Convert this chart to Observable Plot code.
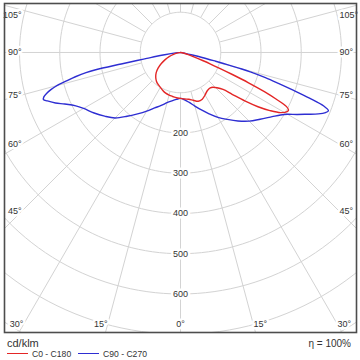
<!DOCTYPE html>
<html>
<head>
<meta charset="utf-8">
<script src="https://cdn.jsdelivr.net/npm/d3@7"></script>
<script src="https://cdn.jsdelivr.net/npm/@observablehq/plot@0.6"></script>
<style>
  html, body { margin: 0; padding: 0; background: #fff; }
  #wrap { position: relative; width: 360px; height: 360px; background: #fff;
          font-family: "Liberation Sans", Arial, sans-serif; color: #333; overflow: hidden; }
  #chart { position: absolute; left: 0; top: 0; }
  .abs { position: absolute; line-height: 1; white-space: nowrap; }
</style>
</head>
<body>
<div id="wrap">
  <div id="chart"></div>
</div>
<script>
// ---------------- data (gamma in degrees from nadir, intensity in cd/klm) ----------------
const gammaC180 = [0,5,10,15,20,25,30,35,40,45,50,55,60,65,70,75,80,85,90];
const iC180     = [114,113,111,109.5,107.5,104,100,97,93,87,79,68,55,42,30,18,9,3,0];

const gammaC0 = [0,5,10,15,20,25,30,35,40,43,46,49,51,53,55,57,59,61,62,63,64,65,66,67,68,69,70,72,75,80,90];
const iC0     = [114,116,118,123,129,128,122,116,115,118,126,140,165,200,235,265,290,303,304,295,265,230,185,140,105,80,60,35,18,7,0];

const gammaC270 = [0,5,10,15,20,25,30,35,40,45,50,55,60,63,66,68,70,71,72,73,74,75,76,77,78,78.5,79,79.5,80,81,82,84,87,90];
const iC270     = [114,117,122,129,140,152,168,186,207,230,246,262,278,292,315,335,352,360,357,348,335,318,292,268,240,215,150,110,85,60,40,20,7,0];

const gammaC90 = [0,5,10,15,20,25,30,35,40,45,50,55,58,60,62,64,66,67.5,68.5,69.5,70.5,71.5,72.5,73.5,74.5,75,75.5,76,77,78,80,85,90];
const iC90     = [114,118,126,138,152,168,186,203,222,241,258,278,293,307,328,350,375,390,395,380,340,295,255,220,180,150,120,90,55,30,12,3,0];

const seriesNames  = ["C0 - C180", "C90 - C270"];
const seriesColors = ["#e32626", "#2e2ed2"];

const gridRadii      = [100,200,300,400,500,600,700,800];
const radialLabels   = [200,300,400,500,600];
const angleTicks     = [105,90,75,60,45,30,15,0];
const spokeAngles    = [0,15,30,45,60,75,90,105,120,135,150,165,180];

const unitLabel = "cd/klm";
const effLabel  = "η = 100%";

// ---------------- helpers ----------------
const rad = d => d * Math.PI / 180;
const pt = (g, i, side) => ({x: side * i * Math.sin(rad(g)), y: i * Math.cos(rad(g))});

function halfCurves(gL, iL, gR, iR, name) {
  const out = [];
  for (let k = gL.length - 1; k >= 0; k--) out.push({...pt(gL[k], iL[k], -1), s: name});
  for (let k = 1; k < gR.length; k++) out.push({...pt(gR[k], iR[k], 1), s: name});
  return out;
}
const redCurve  = halfCurves(gammaC180, iC180, gammaC0, iC0, seriesNames[0]);
const blueCurve = halfCurves(gammaC270, iC270, gammaC90, iC90, seriesNames[1]);

const circles = [];
for (const r of gridRadii) for (const a of d3.range(0, 361, 2)) circles.push({r, ...pt(a, r, 1)});

const spokes = [];
for (const g of spokeAngles) for (const s of (g === 0 || g === 180 ? [1] : [-1, 1])) {
  const a = pt(g, 100, s), b = pt(g, 1200, s);
  spokes.push({x1: a.x, y1: a.y, x2: b.x, y2: b.y});
}

// angle labels where each spoke meets an inset box
const insetX = 395, insetBottom = 676, minY = -94;
const angleLabelData = [];
for (const g of angleTicks) for (const s of (g === 0 ? [0] : [-1, 1])) {
  const sn = Math.sin(rad(g)), cs = Math.cos(rad(g));
  const tSide = sn > 1e-9 ? insetX / sn : Infinity;
  const tBot  = cs > 1e-9 ? insetBottom / cs : Infinity;
  const t = Math.min(tSide, tBot);
  let x = (s === 0 ? 0 : s) * t * sn, y = Math.max(minY, t * cs);
  angleLabelData.push({x, y, label: g + "°", anchor: s < 0 ? "end" : s > 0 ? "start" : "middle"});
}

// ---------------- plot ----------------
const W = 360, H = 336;
const font = "Liberation Sans, Arial, sans-serif";
const textCommon = {fontFamily: font, fontSize: 9, fill: "#333", stroke: "white", strokeWidth: 5};

const chart = Plot.plot({
  width: W, height: H,
  marginLeft: 4, marginRight: 4, marginTop: 3, marginBottom: 4,
  x: {domain: [-437.3, 437.3], range: [4, 356], axis: null},
  y: {domain: [-121.7, 695.7], range: [3, 332], axis: null},
  style: {background: "white", fontFamily: font},
  marks: [
    Plot.line(circles, {x: "x", y: "y", z: "r", stroke: "#d3d3d3", strokeWidth: 1, clip: true}),
    Plot.link(spokes, {x1: "x1", y1: "y1", x2: "x2", y2: "y2", stroke: "#d3d3d3", strokeWidth: 1, clip: true}),
    Plot.text(radialLabels, {x: d => 0, y: d => d, text: d => String(d), textAnchor: "middle", ...textCommon}),
    Plot.text(angleLabelData.filter(d => d.anchor === "end"), {x: "x", y: "y", text: "label", textAnchor: "end", ...textCommon}),
    Plot.text(angleLabelData.filter(d => d.anchor === "start"), {x: "x", y: "y", text: "label", textAnchor: "start", ...textCommon}),
    Plot.text(angleLabelData.filter(d => d.anchor === "middle"), {x: "x", y: "y", text: "label", textAnchor: "middle", ...textCommon}),
    Plot.line(blueCurve, {x: "x", y: "y", stroke: seriesColors[1], strokeWidth: 1.4, curve: "catmull-rom", clip: true}),
    Plot.line(redCurve,  {x: "x", y: "y", stroke: seriesColors[0], strokeWidth: 1.4, curve: "catmull-rom", clip: true}),
    Plot.frame({stroke: "#4d4d4d", strokeWidth: 1.6})
  ]
});
document.getElementById("chart").appendChild(chart);

// ---------------- texts & legend below the SVG ----------------
const wrap = document.getElementById("wrap");
function addDiv(text, style) {
  const d = document.createElement("div");
  d.className = "abs";
  d.textContent = text;
  Object.assign(d.style, style);
  wrap.appendChild(d);
  return d;
}
addDiv(unitLabel, {left: "7px", top: "337.5px", fontSize: "11px"});
addDiv(effLabel,  {right: "9px", top: "338.5px", fontSize: "10px"});

const legendX = [[7, 32], [78, 103]];
seriesNames.forEach((name, k) => {
  const sw = document.createElement("div");
  sw.className = "abs";
  Object.assign(sw.style, {left: legendX[k][0] + "px", top: "352.8px", width: "21px", height: "0",
                           borderTop: "1.4px solid " + seriesColors[k]});
  wrap.appendChild(sw);
  addDiv(name, {left: legendX[k][1] + "px", top: "349.6px", fontSize: "8.6px"});
});
</script>
</body>
</html>
